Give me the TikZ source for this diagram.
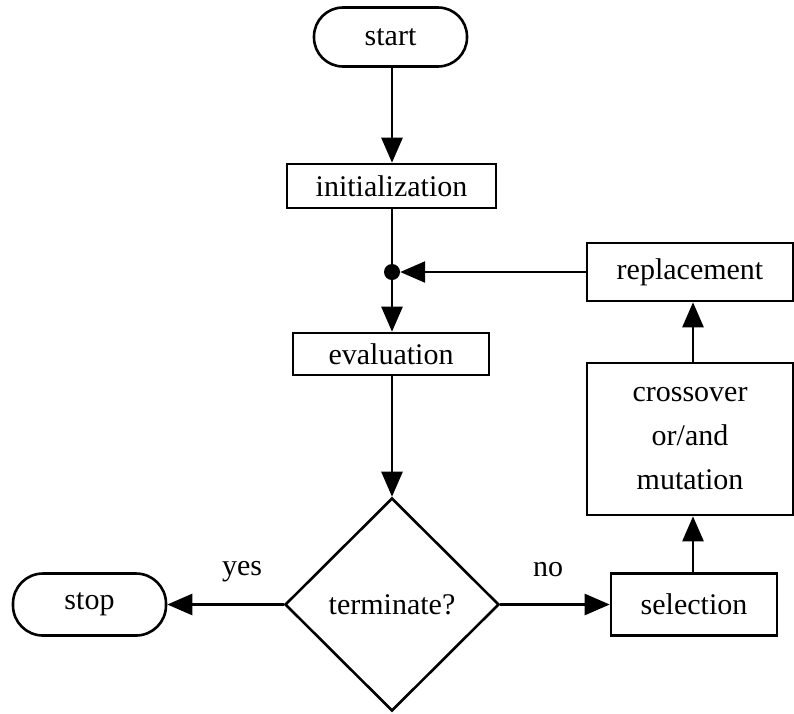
\documentclass[tikz,border=0pt]{standalone}
\usepackage{fontspec}
\setmainfont{Liberation Serif}
\usetikzlibrary{arrows.meta,shapes.geometric}
\begin{document}
\begin{tikzpicture}[x=1pt,y=-1pt,
  every node/.style={font=\fontsize{30}{44}\selectfont},
  box/.style={draw,line width=2.6pt,inner sep=0pt,align=center},
  term/.style={box,rounded corners=29pt},
  conn/.style={line width=2.6pt,-{Triangle[length=25pt,width=21pt]}},
  plain/.style={line width=2.6pt}]
\useasboundingbox (0,0) rectangle (794,713);
\node[term,minimum width=153pt,minimum height=59pt] (start) at (390.5,37) {start};
\node[box,minimum width=209pt,minimum height=44pt] (init) at (391.5,186) {initialization};
\node[circle,fill,inner sep=0pt,minimum size=16pt] (dot) at (392,272) {};
\node[box,minimum width=196pt,minimum height=42pt] (eval) at (391,354) {evaluation};
\node[draw,line width=2.6pt,diamond,inner sep=0pt,minimum width=214pt,minimum height=213pt] (term) at (392,604.5) {terminate?};
\node[term,minimum width=153pt,minimum height=62pt,rounded corners=30pt] (stop) at (89.5,604.5) {stop};
\node[box,minimum width=166pt,minimum height=62pt] (sel) at (694,604.5) {selection};
\node[box,minimum width=206pt,minimum height=152pt] (cross) at (690,439) {crossover\\or/and\\mutation};
\node[box,minimum width=206pt,minimum height=58pt] (repl) at (690,272) {replacement};
\node (yes) at (242,572) {yes};
\node (no) at (548,570) {no};
\draw[conn] (dot |- start.south) -- (dot |- init.north);
\draw[plain] (dot |- init.south) -- (dot);
\draw[conn] (dot) -- (dot |- eval.north);
\draw[conn] (dot |- eval.south) -- (term.north);
\draw[conn] (term.west) -- (stop.east);
\draw[conn] (term.east) -- (sel.west);
\draw[conn] ([xshift=-1pt]sel.north) -- ([xshift=-1pt]sel.north |- cross.south);
\draw[conn] ([xshift=-1pt]sel.north |- cross.north) -- ([xshift=-1pt]sel.north |- repl.south);
\draw[conn] (repl.west) -- (dot);
\end{tikzpicture}
\end{document}
